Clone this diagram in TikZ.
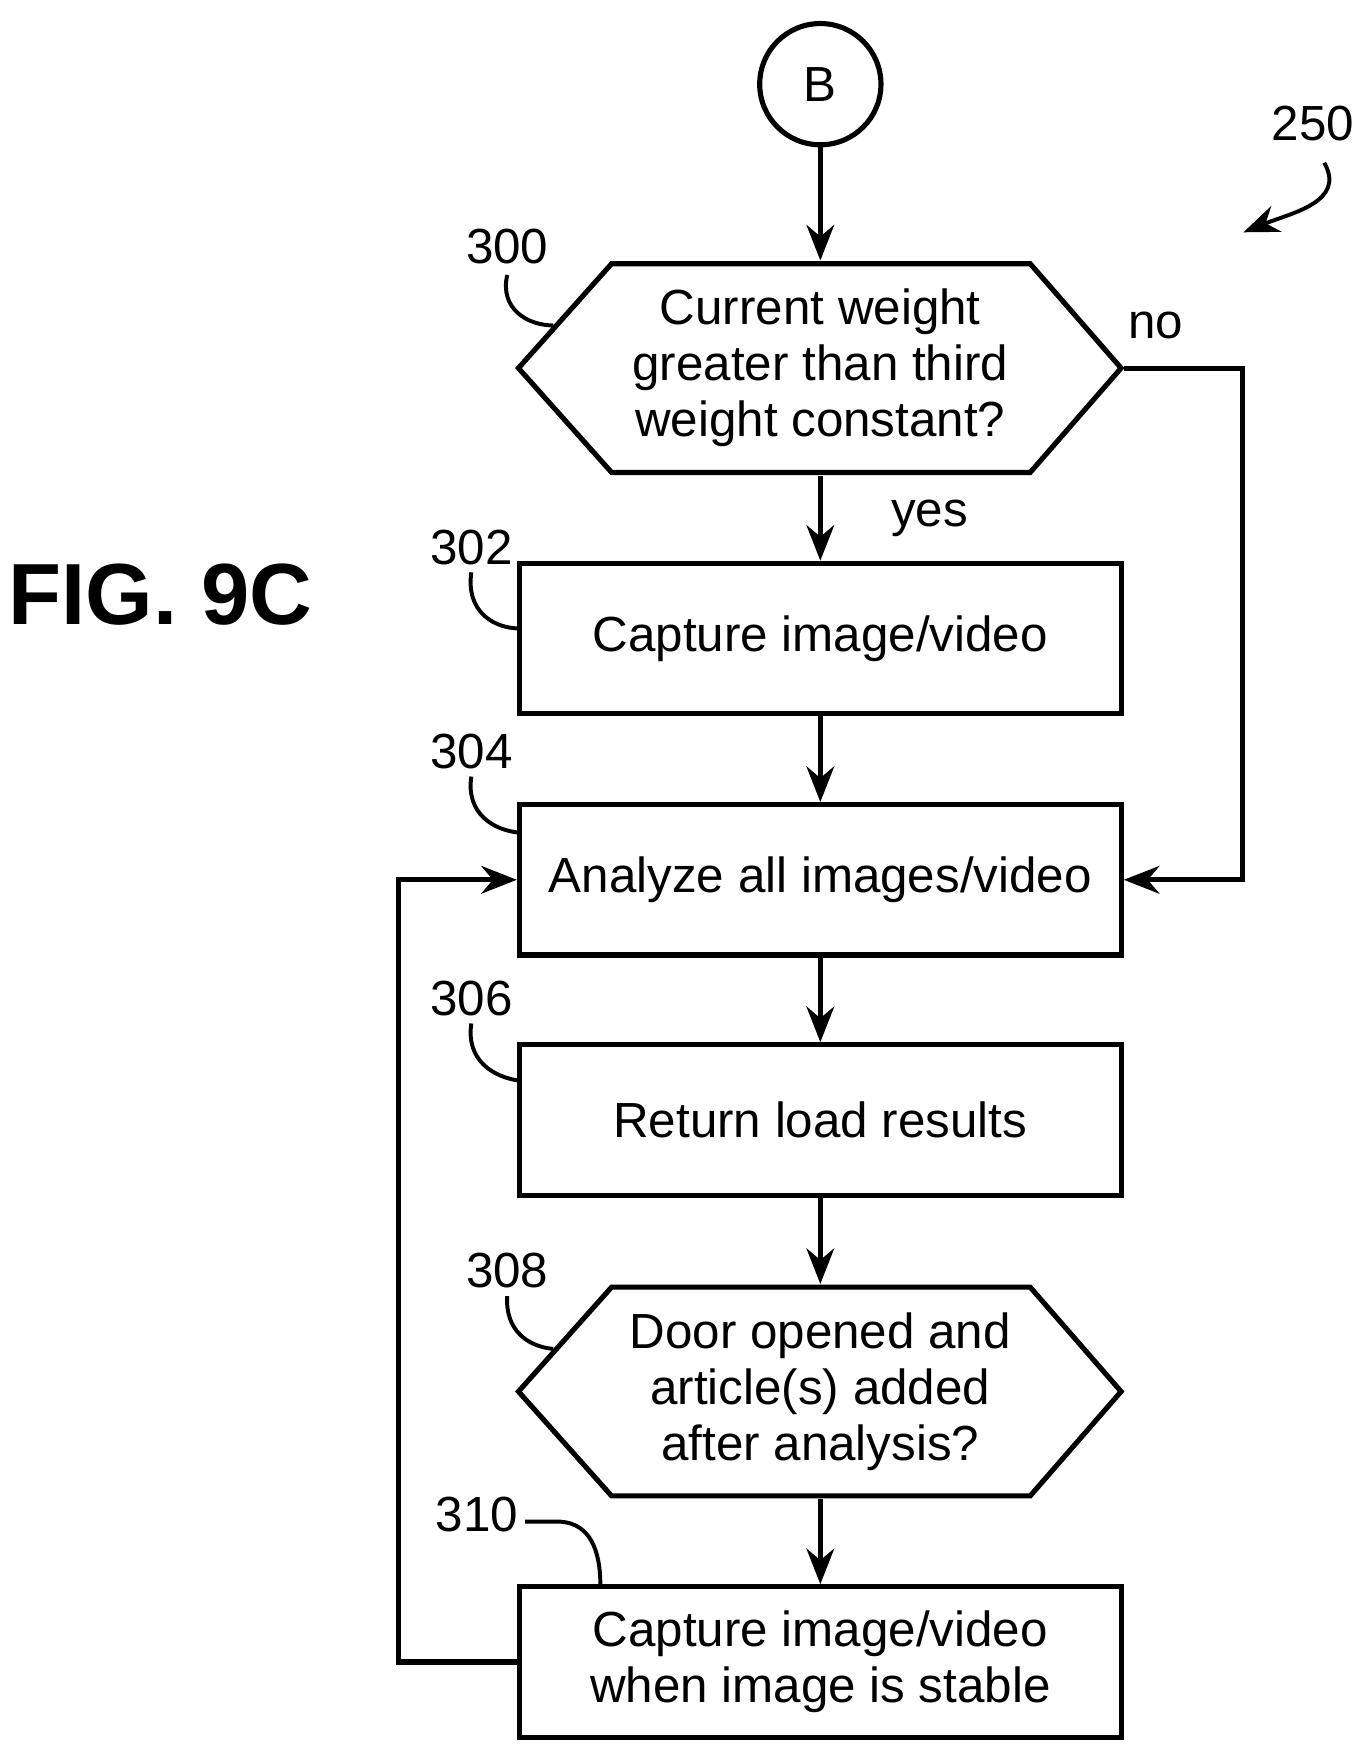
\documentclass[tikz,border=0pt]{standalone}
\usepackage{fontspec}
\setmainfont{Liberation Sans}
\usetikzlibrary{arrows.meta}
\begin{document}
\begin{tikzpicture}[x=0.01cm,y=-0.01cm,line width=1.3pt,
  box/.style={draw,minimum width=5.36cm,minimum height=1.34cm,inner sep=0pt,align=center,font=\fontsize{12.5}{14.2}\selectfont},
  hexn/.style={minimum width=5.37cm,minimum height=1.87cm,inner sep=0pt,align=center,font=\fontsize{12.5}{14.2}\selectfont},
  lab/.style={font=\fontsize{12.5}{15}\selectfont},
  arr/.style={-{Stealth[length=9pt,width=7pt]}},
  lead/.style={line width=1pt}]
\useasboundingbox (0,0) rectangle (1220,1563);
\node[draw,circle,minimum size=1.08cm,inner sep=0pt,lab] (B) at (731,75) {B};
\node[hexn] (h300) at (731,328) {Current weight\\greater than third\\weight constant?};
\draw (462,328)--(545,235)--(918,235)--(999,328)--(918,421)--(545,421)--cycle;
\node[box] (b302) at (731,569) {Capture image/video};
\node[box] (b304) at (731,784) {Analyze all images/video};
\node[box] (b306) at (731,998) {Return load results};
\node[hexn] (h308) at (731,1240) {Door opened and\\article(s) added\\after analysis?};
\draw (462,1240)--(545,1147)--(918,1147)--(999,1240)--(918,1333)--(545,1333)--cycle;
\node[box] (b310) at (731,1481) {Capture image/video\\when image is stable};
\draw[arr] (B)--(h300);
\draw[arr] (h300)--(b302) node[pos=0.5,right=14pt,lab]{yes};
\draw[arr] (b302)--(b304);
\draw[arr] (b304)--(b306);
\draw[arr] (b306)--(h308);
\draw[arr] (h308)--(b310);
\coordinate (n1) at (1107,328); \coordinate (n2) at (1107,784);
\draw[arr] (h300.east)--(n1)--(n2)--(b304.east);
\node[lab] (no) at (1030,290) {no};
\coordinate (l1) at (355,1481); \coordinate (l2) at (355,784);
\draw[arr] (b310.west)--(l1)--(l2)--(b304.west);
\node[lab] (r250) at (1170,110) {250};
\draw[arr,lead] (1180,145) .. controls (1200,180) and (1150,190) .. (1108,207);
\node[font=\fontsize{22}{26}\selectfont\bfseries] (fig) at (143,530) {FIG. 9C};
\node[lab] (r300) at (452,220) {300};
\draw[lead] (452,245) .. controls (445,275) and (470,290) .. (493,290);
\node[lab] (r302) at (420,488) {302};
\draw[lead] (420,510) .. controls (415,545) and (440,560) .. (463,560);
\node[lab] (r304) at (420,670) {304};
\draw[lead] (420,692) .. controls (415,725) and (440,740) .. (463,742);
\node[lab] (r306) at (420,890) {306};
\draw[lead] (420,912) .. controls (415,945) and (440,960) .. (463,963);
\node[lab] (r308) at (452,1132) {308};
\draw[lead] (452,1155) .. controls (450,1185) and (470,1200) .. (493,1202);
\node[lab] (r310) at (425,1350) {310};
\draw[lead] (468,1356) -- (500,1356) .. controls (525,1358) and (535,1380) .. (535,1413);
\end{tikzpicture}
\end{document}
